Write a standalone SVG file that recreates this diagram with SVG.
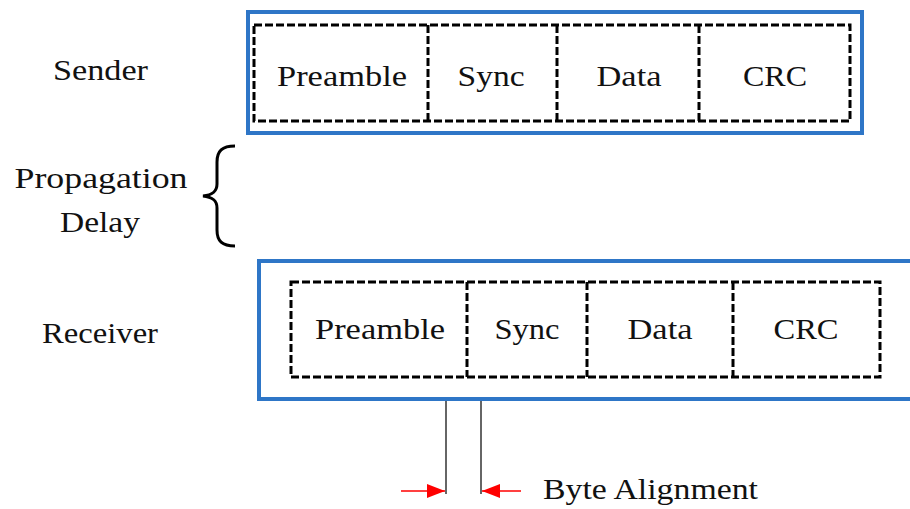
<svg xmlns="http://www.w3.org/2000/svg" width="910" height="509" viewBox="0 0 910 509">
  <style>
    .frame { fill: #ffffff; stroke: #2e76c7; stroke-width: 4; }
    .cell { fill: none; stroke: #000000; stroke-width: 3; stroke-dasharray: 8 3; }
    .lbl { font-family: "Liberation Serif", "Times New Roman", serif; font-size: 30px; fill: #111111; }
    .mid { text-anchor: middle; }
    .tick { stroke: #333333; stroke-width: 1.5; fill: none; }
    .arr { stroke: #ff0000; stroke-width: 1.5; fill: none; }
  </style>
  <defs>
    <marker id="redhead" viewBox="0 0 18 14" refX="18" refY="7" markerWidth="18" markerHeight="14" markerUnits="userSpaceOnUse" orient="auto">
      <path d="M0,0 L18,7 L0,14 Z" fill="#ff0000"/>
    </marker>
  </defs>
  <rect width="910" height="509" fill="#ffffff"/>

  <!-- side labels -->
  <text class="lbl" x="53" y="80" textLength="95" lengthAdjust="spacingAndGlyphs">Sender</text>
  <text class="lbl mid" x="101" y="188" textLength="173" lengthAdjust="spacingAndGlyphs">Propagation</text>
  <text class="lbl mid" x="100" y="232" textLength="80" lengthAdjust="spacingAndGlyphs">Delay</text>
  <text class="lbl" x="42" y="343" textLength="116" lengthAdjust="spacingAndGlyphs">Receiver</text>

  <!-- propagation delay brace -->
  <path d="M235,146 C222,146 217,151 217,162 L217,184 C217,192 212,195 203,196 C212,197 217,200 217,208 L217,230 C217,241 222,246 235,246" fill="none" stroke="#000000" stroke-width="3"/>

  <!-- sender frame -->
  <g id="sender">
    <rect class="frame" x="248" y="12" width="614" height="121"/>
    <rect class="cell" x="254" y="25" width="596" height="96"/>
    <line class="cell" x1="428" y1="25" x2="428" y2="121"/>
    <line class="cell" x1="557" y1="25" x2="557" y2="121"/>
    <line class="cell" x1="699" y1="25" x2="699" y2="121"/>
    <g id="sender-preamble">
      <text class="lbl mid" x="342" y="86" textLength="130" lengthAdjust="spacingAndGlyphs">Preamble</text>
    </g>
    <g id="sender-sync">
      <text class="lbl mid" x="491" y="86" textLength="67" lengthAdjust="spacingAndGlyphs">Sync</text>
    </g>
    <g id="sender-data">
      <text class="lbl mid" x="629" y="86" textLength="65" lengthAdjust="spacingAndGlyphs">Data</text>
    </g>
    <g id="sender-crc">
      <text class="lbl mid" x="775" y="86" textLength="64" lengthAdjust="spacingAndGlyphs">CRC</text>
    </g>
  </g>

  <!-- receiver frame -->
  <g id="receiver">
    <rect class="frame" x="259" y="261" width="660" height="138"/>
    <rect class="cell" x="291" y="282" width="589" height="95"/>
    <line class="cell" x1="467" y1="282" x2="467" y2="377"/>
    <line class="cell" x1="587" y1="282" x2="587" y2="377"/>
    <line class="cell" x1="733" y1="282" x2="733" y2="377"/>
    <g id="receiver-preamble">
      <text class="lbl mid" x="380" y="339" textLength="130" lengthAdjust="spacingAndGlyphs">Preamble</text>
    </g>
    <g id="receiver-sync">
      <text class="lbl mid" x="527" y="339" textLength="65" lengthAdjust="spacingAndGlyphs">Sync</text>
    </g>
    <g id="receiver-data">
      <text class="lbl mid" x="660" y="339" textLength="65" lengthAdjust="spacingAndGlyphs">Data</text>
    </g>
    <g id="receiver-crc">
      <text class="lbl mid" x="806" y="339" textLength="65" lengthAdjust="spacingAndGlyphs">CRC</text>
    </g>
  </g>

  <!-- byte alignment markers -->
  <g id="connectors">
    <line class="tick" x1="446" y1="401" x2="446" y2="494"/>
    <line class="tick" x1="481" y1="401" x2="481" y2="494"/>
    <line class="arr" x1="401" y1="491" x2="445" y2="491" marker-end="url(#redhead)"/>
    <line class="arr" x1="521" y1="491" x2="482" y2="491" marker-end="url(#redhead)"/>
  </g>
  <text class="lbl" x="543" y="499" textLength="215" lengthAdjust="spacingAndGlyphs">Byte Alignment</text>
</svg>
